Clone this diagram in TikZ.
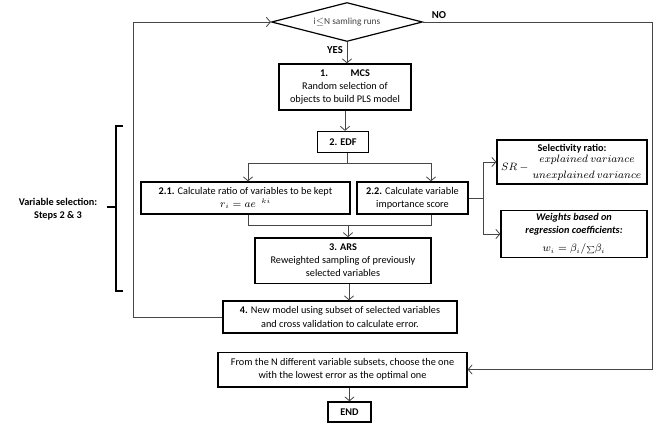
\documentclass[tikz,border=0pt]{standalone}
\usepackage{amsmath}
\usepackage{fontspec}
\setmainfont{Carlito}
\usetikzlibrary{shapes.geometric,arrows.meta}
\definecolor{conncol}{RGB}{70,70,70}
\begin{document}
\begin{tikzpicture}[x=0.75pt,y=-0.75pt,
  box/.style={draw=black, line width=1pt, align=center, inner sep=1pt,
    font=\fontsize{7.7}{9.8}\selectfont},
  conn/.style={draw=conncol, line width=0.6pt},
  arr/.style={conn, -{Straight Barb[length=3pt,width=7pt,line width=0.6pt]}},
  lbl/.style={font=\fontsize{8}{10}\selectfont\bfseries, inner sep=0pt}]
\useasboundingbox (0,0) rectangle (658,425);

% decision
\node[diamond, draw=black, line width=0.9pt, aspect=4, inner sep=0pt,
  minimum width=113.25pt, minimum height=29.25pt,
  font=\fontsize{7}{8}\selectfont, text=black!75] (dec) at (347,22) {i$\leq$N samling runs};
\node[lbl] (no) at (439,15) {NO};
\node[lbl] (yes) at (335,50) {YES};

% main boxes
\node[box, minimum width=99pt, minimum height=34.5pt] (mcs) at (345,87)
  {\textbf{1.\hspace{2.2em}MCS}\\Random selection of\\objects to build PLS model};
\node[box, minimum width=38.25pt, minimum height=15.75pt] (edf) at (343,142) {\textbf{2. EDF}};
\node[box, minimum width=156.75pt, minimum height=24pt] (n21) at (245.5,198)
  {\textbf{2.1.} Calculate ratio of variables to be kept\\$r_i = ae^{\;\;ki}$};
\node[box, minimum width=83.25pt, minimum height=24pt] (n22) at (412.5,198)
  {\textbf{2.2.} Calculate variable\\importance score};
\node[box, minimum width=112.5pt, minimum height=33pt, inner sep=0.5pt] (sr) at (572,162)
  {\textbf{Selectivity ratio:}\\[1pt]$SR - \genfrac{}{}{0pt}{0}{explained\ variance}{unexplained\ variance}$};
\node[box, minimum width=109.5pt, minimum height=35.25pt] (w) at (574,234)
  {\textbf{\textit{Weights based on}}\\\textbf{\textit{regression coefficients:}}\\[3.5pt]$w_i = \beta_i/{\scriptstyle\sum}\beta_i$};
\node[box, minimum width=132pt, minimum height=34pt] (ars) at (343,260.5)
  {\textbf{3. ARS}\\Reweighted sampling of previously\\selected variables};
\node[box, minimum width=175.5pt, minimum height=24pt] (n4) at (340,317)
  {\textbf{4.} New model using subset of selected variables\\and cross validation to calculate error.};
\node[box, minimum width=186.75pt, minimum height=26pt] (from) at (342.5,369.5)
  {From the N different variable subsets, choose the one\\with the lowest error as the optimal one};
\node[box, minimum width=32.25pt, minimum height=15pt] (end) at (349.5,412) {\textbf{END}};

% brace label
\node[align=center, inner sep=0pt, font=\fontsize{7.7}{10}\selectfont\bfseries] (vs) at (58,209)
  {Variable selection:\\Steps 2 \& 3};

% connectors
\draw[arr] (dec.south) -- (mcs.north -| dec.south);
\draw[arr] (mcs.south) -- (mcs.south |- edf.north);
\coordinate (sc) at (347,163);
\coordinate (sl) at (248,163);
\coordinate (sr0) at (431,163);
\draw[conn] (edf.south -| sc) -- (sc);
\draw[conn] (sl) -- (sr0);
\draw[arr] (sl) -- (sl |- n21.north);
\draw[arr] (sr0) -- (sr0 |- n22.north);
\coordinate (jl) at (248,225);
\coordinate (jr) at (431,225);
\coordinate (jc) at (348,225);
\draw[conn] (n21.south -| jl) -- (jl) -- (jr) -- (n22.south -| jr);
\draw[arr] (jc) -- (jc |- ars.north);
\coordinate (ac) at (349,283);
\draw[arr] (ars.south -| ac) -- (ac |- n4.north);
\draw[arr] (from.south -| end.north) -- (end.north);

% side bracket
\coordinate (bk) at (483,198);
\draw[conn] (n22.east) -- (bk);
\draw[arr] (bk) |- (sr.west);
\draw[arr] (bk) |- (w.west);

% loops
\coordinate (lc) at (133,317);
\draw[arr] (n4.west) -- (lc) |- (dec.west);
\coordinate (rc) at (652,22);
\draw[arr] (dec.east) -- (rc) |- (from.east);

% brace
\coordinate (bt) at (116,126);
\coordinate (bb) at (116,291);
\coordinate (bm) at (116,207);
\draw[black, line width=0.8pt] ([xshift=5.5pt]bt) -- (bt) -- (bb) -- ([xshift=5.5pt]bb);
\draw[black, line width=0.8pt] (bm) -- ([xshift=-7pt]bm);
\end{tikzpicture}
\end{document}
